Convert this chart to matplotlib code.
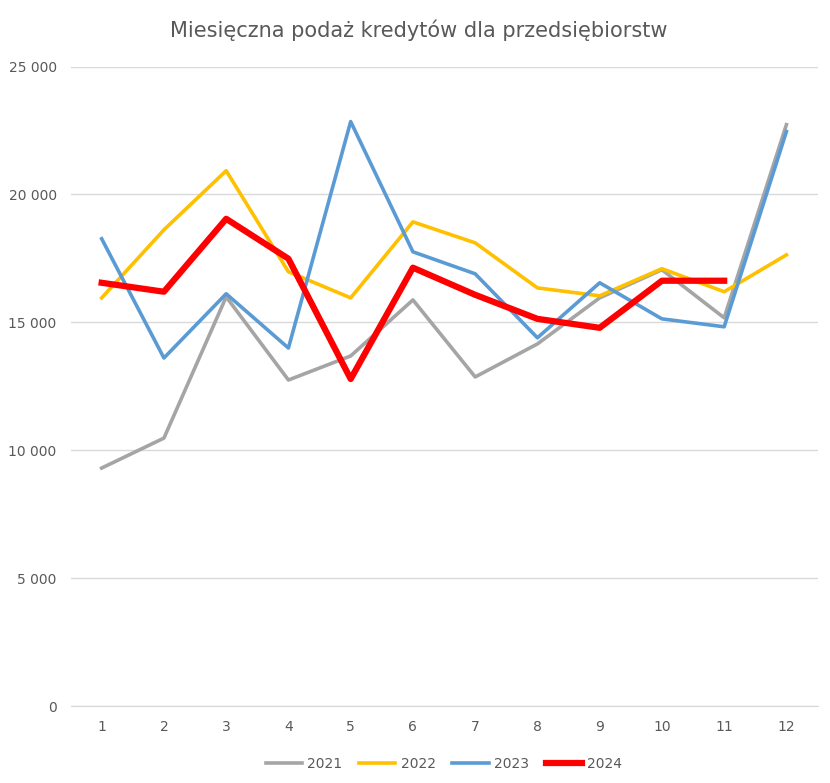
import matplotlib.pyplot as plt
from matplotlib.ticker import FuncFormatter

months = list(range(1, 13))
v2021 = [9310, 10480, 16000, 12750, 13690, 15880, 12870, 14160, 15960, 17060, 15180, 22730]
v2022 = [15960, 18620, 20930, 16980, 15960, 18930, 18110, 16350, 16040, 17100, 16200, 17640]
v2023 = [18270, 13610, 16120, 14000, 22850, 17760, 16900, 14400, 16550, 15140, 14830, 22460]
v2024 = [16550, 16200, 19050, 17490, 12790, 17140, 16080, 15140, 14790, 16630, 16630]

fig = plt.figure(figsize=(8.3, 7.83), dpi=100)
ax = fig.add_axes([0.085, 0.098, 0.9, 0.817])

ax.plot(months, v2021, color="#a5a5a5", lw=2.6, label="2021")
ax.plot(months, v2022, color="#ffc000", lw=2.6, label="2022")
ax.plot(months, v2023, color="#5b9bd5", lw=2.6, label="2023")
ax.plot(months[:11], v2024, color="#ff0000", lw=4.5, label="2024")

ax.set_ylim(0, 25000)
ax.set_xlim(0.5, 12.5)
ax.set_yticks(range(0, 25001, 5000))
ax.set_xticks(months)
ax.yaxis.set_major_formatter(FuncFormatter(lambda v, p: f"{int(v):,}".replace(",", " ")))
ax.grid(axis="y", color="#d9d9d9", lw=1)
ax.set_axisbelow(True)
for s in ["top", "right", "left"]:
    ax.spines[s].set_visible(False)
ax.spines["bottom"].set_color("#d9d9d9")
ax.tick_params(length=0, labelsize=10, colors="#595959", pad=10)

fig.suptitle("Miesięczna podaż kredytów dla przedsiębiorstw", x=0.505, y=0.975,
             fontsize=15, color="#595959")
ax.legend(loc="upper center", bbox_to_anchor=(0.5, -0.06), ncol=4,
          frameon=False, fontsize=10, handlelength=2.6, handletextpad=0.4,
          columnspacing=1.2, labelcolor="#595959")

fig.savefig("out.png")
